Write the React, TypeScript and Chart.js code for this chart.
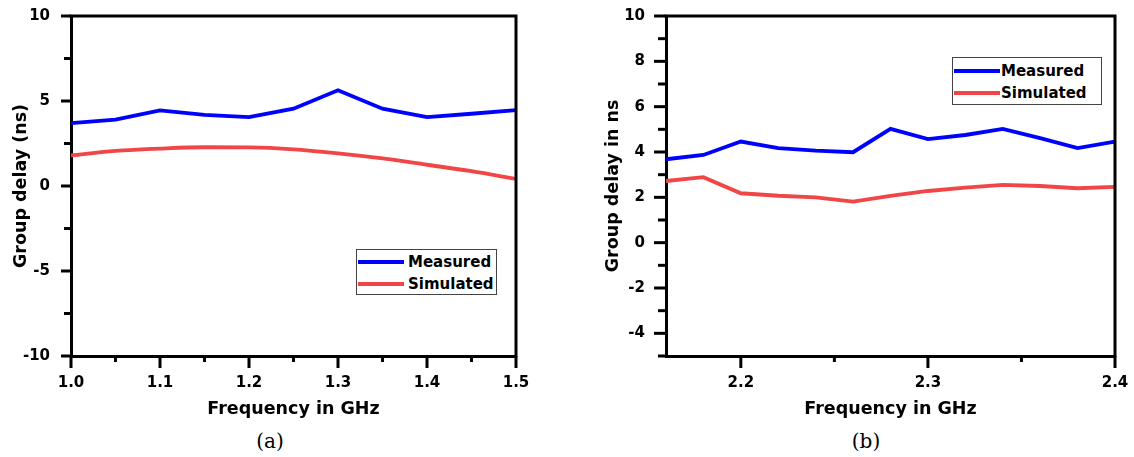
import React, { useEffect, useRef } from 'react';
import { Chart, registerables } from 'chart.js';

Chart.register(...registerables);

// ---- Chart (a) data ----
const freqA = [1.0, 1.05, 1.1, 1.15, 1.2, 1.25, 1.3, 1.35, 1.4, 1.45, 1.5];
const measuredA = [3.7, 3.9, 4.45, 4.18, 4.05, 4.55, 5.63, 4.55, 4.05, 4.25, 4.46];
const simulatedA = [1.8, 2.06, 2.2, 2.28, 2.27, 2.16, 1.92, 1.62, 1.25, 0.87, 0.42];
const xTicksA = [1.0, 1.05, 1.1, 1.15, 1.2, 1.25, 1.3, 1.35, 1.4, 1.45, 1.5];
const xLabelsA = ['1.0', '', '1.1', '', '1.2', '', '1.3', '', '1.4', '', '1.5'];
const yTicksA = [-10, -7.5, -5, -2.5, 0, 2.5, 5, 7.5, 10];
const yLabelsA = ['-10', '', '-5', '', '0', '', '5', '', '10'];

// ---- Chart (b) data ----
const freqB = [2.16, 2.18, 2.2, 2.22, 2.24, 2.26, 2.28, 2.3, 2.32, 2.34, 2.36, 2.38, 2.4];
const measuredB = [3.68, 3.87, 4.46, 4.17, 4.06, 3.99, 5.02, 4.57, 4.75, 5.02, 4.61, 4.17, 4.46];
const simulatedB = [2.72, 2.89, 2.18, 2.07, 2.0, 1.81, 2.06, 2.28, 2.43, 2.55, 2.5, 2.4, 2.46];
const xTicksB = [2.2, 2.25, 2.3, 2.35, 2.4];
const xLabelsB = ['2.2', '', '2.3', '', '2.4'];
const yTicksB = [-5, -4, -3, -2, -1, 0, 1, 2, 3, 4, 5, 6, 7, 8, 9, 10];
const yLabelsB = ['', '-4', '', '-2', '', '0', '', '2', '', '4', '', '6', '', '8', '', '10'];

const seriesNames = ['Measured', 'Simulated'];
const BLUE = '#0000ff';
const RED = '#f24646';
const FONT = "'DejaVu Sans', sans-serif";

const frameTicks = {
  id: 'frameTicks',
  afterDraw(chart: any, _args: any, opts: any) {
    const { ctx, chartArea: a } = chart;
    const xs = chart.scales.x;
    const ys = chart.scales.y;
    ctx.save();
    ctx.strokeStyle = '#000';
    ctx.lineWidth = 3;
    ctx.lineCap = 'square';
    ctx.beginPath();
    ctx.moveTo(a.left, a.top);
    ctx.lineTo(a.right, a.top);
    ctx.lineTo(a.right, a.bottom);
    ctx.stroke();
    ctx.lineCap = 'butt';
    xs.ticks.forEach((t: any, i: number) => {
      const px = xs.getPixelForValue(t.value);
      const len = opts.xLabels[i] ? opts.xMajor : opts.xMinor;
      ctx.beginPath();
      ctx.moveTo(px, a.bottom);
      ctx.lineTo(px, a.bottom + len);
      ctx.stroke();
    });
    ys.ticks.forEach((t: any, i: number) => {
      const py = ys.getPixelForValue(t.value);
      const len = opts.yLabels[i] ? opts.yMajor : opts.yMinor;
      ctx.beginPath();
      ctx.moveTo(a.left, py);
      ctx.lineTo(a.left - len, py);
      ctx.stroke();
    });
    ctx.restore();
  },
};

function makeConfig(p: any) {
  const tickFont = { family: FONT, weight: 'bold', size: 15 };
  const titleFont = { family: FONT, weight: 'bold', size: 17.5 };
  return {
    type: 'line',
    data: {
      datasets: [
        {
          label: seriesNames[0],
          data: p.freq.map((f: number, i: number) => ({ x: f, y: p.measured[i] })),
          borderColor: BLUE,
          borderWidth: 3.8,
          pointRadius: 0,
          tension: 0,
        },
        {
          label: seriesNames[1],
          data: p.freq.map((f: number, i: number) => ({ x: f, y: p.simulated[i] })),
          borderColor: RED,
          borderWidth: 3.8,
          pointRadius: 0,
          cubicInterpolationMode: p.smoothSim ? 'monotone' : 'default',
          tension: 0,
        },
      ],
    },
    options: {
      responsive: false,
      animation: false,
      layout: { padding: { top: 16, right: p.padRight, left: 0, bottom: 0 } },
      plugins: {
        legend: { display: false },
        tooltip: { enabled: false },
        frameTicks: {
          xLabels: p.xLabels,
          yLabels: p.yLabels,
          xMajor: 12,
          xMinor: 6,
          yMajor: p.yMajor,
          yMinor: p.yMinor,
        },
      },
      scales: {
        x: {
          type: 'linear',
          min: p.xMin,
          max: p.xMax,
          afterBuildTicks: (s: any) => {
            s.ticks = p.xTicks.map((v: number) => ({ value: v }));
          },
          afterFit: (s: any) => {
            s.height = 64;
            s.paddingLeft = 0;
            s.paddingRight = 0;
          },
          grid: { display: false, drawTicks: false },
          border: { display: true, color: '#000', width: 3 },
          ticks: {
            autoSkip: false,
            maxRotation: 0,
            padding: 18,
            color: '#000',
            font: tickFont,
            callback: (_v: any, i: number) => p.xLabels[i],
          },
          title: {
            display: true,
            text: 'Frequency in GHz',
            color: '#000',
            font: titleFont,
            padding: { top: 0, bottom: 0 },
          },
        },
        y: {
          type: 'linear',
          min: p.yMin,
          max: p.yMax,
          afterBuildTicks: (s: any) => {
            s.ticks = p.yTicks.map((v: number) => ({ value: v }));
          },
          afterFit: (s: any) => {
            s.width = p.yWidth;
            s.paddingTop = 0;
            s.paddingBottom = 0;
          },
          grid: { display: false, drawTicks: false },
          border: { display: true, color: '#000', width: 3 },
          ticks: {
            autoSkip: false,
            padding: 21,
            color: '#000',
            font: tickFont,
            callback: (_v: any, i: number) => p.yLabels[i],
          },
          title: {
            display: true,
            text: p.yTitle,
            color: '#000',
            font: titleFont,
            padding: { top: p.yTitlePad, bottom: 0 },
          },
        },
      },
    },
    plugins: [frameTicks],
  };
}

function ChartCanvas({ config, left }: { config: any; left: number }) {
  const ref = useRef<HTMLCanvasElement>(null);
  useEffect(() => {
    const c = new Chart(ref.current as HTMLCanvasElement, config);
    return () => c.destroy();
  }, []);
  return (
    <canvas
      ref={ref}
      width={560}
      height={420}
      style={{ position: 'absolute', left, top: 0, width: 560, height: 420, display: 'block' }}
    />
  );
}

function Legend({ left, top, width, height, lineLen, textX, rows }: any) {
  const colors = [BLUE, RED];
  return (
    <div
      style={{
        position: 'absolute',
        left,
        top,
        width,
        height,
        border: '1px solid #444',
        boxSizing: 'border-box',
        background: '#fff',
      }}
    >
      {seriesNames.map((n, i) => (
        <React.Fragment key={n}>
          <div
            style={{
              position: 'absolute',
              left: 1,
              top: rows[i] - 2,
              width: lineLen,
              height: 4,
              background: colors[i],
            }}
          />
          <div
            style={{
              position: 'absolute',
              left: textX,
              top: rows[i] - 10,
              height: 20,
              lineHeight: '20px',
              fontFamily: FONT,
              fontWeight: 'bold',
              fontSize: 15,
              color: '#000',
              whiteSpace: 'nowrap',
            }}
          >
            {n}
          </div>
        </React.Fragment>
      ))}
    </div>
  );
}

const configA = makeConfig({
  freq: freqA,
  measured: measuredA,
  simulated: simulatedA,
  smoothSim: true,
  xMin: 1.0,
  xMax: 1.5,
  xTicks: xTicksA,
  xLabels: xLabelsA,
  yMin: -10,
  yMax: 10,
  yTicks: yTicksA,
  yLabels: yLabelsA,
  yTitle: 'Group delay (ns)',
  yWidth: 71,
  yTitlePad: 11,
  padRight: 44,
  yMajor: 10,
  yMinor: 7,
});

const configB = makeConfig({
  freq: freqB,
  measured: measuredB,
  simulated: simulatedB,
  smoothSim: false,
  xMin: 2.16,
  xMax: 2.4,
  xTicks: xTicksB,
  xLabels: xLabelsB,
  yMin: -5,
  yMax: 10,
  yTicks: yTicksB,
  yLabels: yLabelsB,
  yTitle: 'Group delay in ns',
  yWidth: 92,
  yTitlePad: 28.5,
  padRight: 19,
  yMajor: 12,
  yMinor: 8,
});

const captionStyle: React.CSSProperties = {
  position: 'absolute',
  top: 429,
  width: 100,
  textAlign: 'center',
  fontFamily: "'DejaVu Serif', serif",
  fontSize: 20,
  lineHeight: '24px',
  color: '#000',
};

export default function App() {
  return (
    <div
      style={{
        position: 'absolute',
        left: 0,
        top: 0,
        width: 1134,
        height: 457,
        background: '#fff',
        overflow: 'hidden',
      }}
    >
      <ChartCanvas config={configA} left={0} />
      <ChartCanvas config={configB} left={574} />
      <Legend left={356} top={249} width={141} height={46} lineLen={46} textX={51} rows={[12, 34]} />
      <Legend left={952} top={57} width={150} height={48} lineLen={46} textX={48} rows={[13, 35]} />
      <div style={{ ...captionStyle, left: 220 }}>(a)</div>
      <div style={{ ...captionStyle, left: 816 }}>(b)</div>
    </div>
  );
}
